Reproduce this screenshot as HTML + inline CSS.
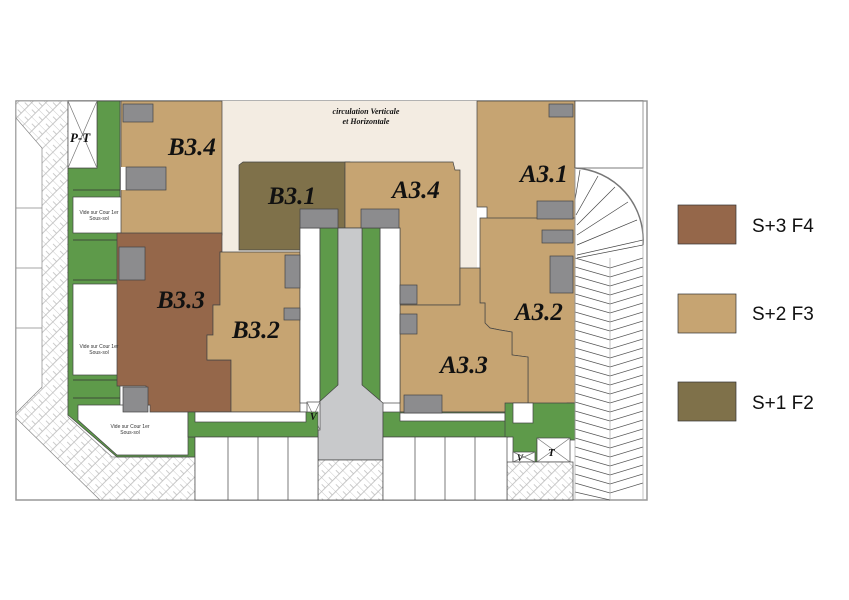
<!DOCTYPE html>
<html><head><meta charset="utf-8"><style>
html,body{margin:0;padding:0;background:#fff}
svg{display:block}
.lbl{font-family:"Liberation Serif",serif;font-weight:bold;font-style:italic;font-size:25px;fill:#111}
.sm{font-family:"Liberation Sans",sans-serif;font-size:5px;fill:#333}
.lg{font-family:"Liberation Sans",sans-serif;font-size:19px;fill:#111}
</style></head><body>
<svg width="849" height="600" viewBox="0 0 849 600" xmlns="http://www.w3.org/2000/svg">
<defs>
<pattern id="h" width="10" height="10" patternUnits="userSpaceOnUse" patternTransform="rotate(45)">
<rect width="10" height="10" fill="#fff"/>
<path d="M0 0H10M0 5H5V10M5 0V5" stroke="#bbb" stroke-width="0.8" fill="none"/>
</pattern>
</defs>
<g stroke="#444" stroke-width="0.7">
<!-- frame -->
<rect x="16" y="101" width="631" height="399" fill="#fff" stroke="#999" stroke-width="1.5"/>
<!-- left hatch -->
<polygon points="16,101 68,101 68,417 112,457 195,457 195,500 100,500 16,418" fill="url(#h)" stroke="#888"/>
<polygon points="16,118 42,148 42,387 16,413" fill="#fff" stroke="#888"/>
<path d="M16 208H42M16 268H42M16 328H42" stroke="#888"/>
<!-- green left -->
<polygon points="68,168 97,168 97,101 120,101 120,437 195,437 195,457 117,457 68,415" fill="#5e9a4a"/>
<rect x="68" y="101" width="29" height="67" fill="#fff"/>
<path d="M68 101L97 168M97 101L68 168" stroke="#777"/>
<path d="M73 190H120M73 240H120M73 280H120M73 380H120M73 398H120" stroke="#333"/>
<rect x="73" y="197" width="52" height="36" fill="#fff"/>
<rect x="73" y="284" width="53" height="91" fill="#fff"/>
<polygon points="78,405 188,405 188,455 117,455 78,420" fill="#fff"/>
<!-- beige circulation -->
<rect x="222" y="101" width="255" height="167" fill="#f3ece2" stroke="none"/>
<!-- B3.4 -->
<polygon points="121,101 222,101 222,235 121,235" fill="#c6a472"/>
<rect x="121" y="167" width="6" height="23" fill="#fff" stroke="none"/>
<!-- B3.3 -->
<polygon points="117,233 222,233 222,252 220,252 220,305 213,305 213,335 207,335 207,360 231,360 231,412 150,412 150,405 146,405 146,386 117,386" fill="#95674a"/>
<!-- B3.2 -->
<polygon points="220,252 300,252 300,412 231,412 231,360 207,360 207,335 213,335 213,305 220,305" fill="#c6a472"/>
<!-- B3.1 -->
<polygon points="239,165 243,162 350,162 350,168 345,168 345,228 300,228 300,250 239,250" fill="#7f714a"/>
<!-- A3.4 -->
<polygon points="345,162 453,162 455,170 460,170 460,305 400,305 400,228 345,228" fill="#c6a472"/>
<!-- A3.1 -->
<polygon points="477,101 575,101 575,220 487,220 487,207 477,207" fill="#c6a472"/>
<!-- A3.2 -->
<polygon points="480,218 575,218 575,403 567,403 567,412 533,412 533,403 528,403 528,357 512,355 512,332 500,330 490,328 485,323 485,303 480,303" fill="#c6a472"/>
<!-- A3.3 -->
<polygon points="400,305 460,305 460,268 480,268 480,303 485,303 485,323 490,328 500,330 512,332 512,355 528,357 528,403 513,403 513,412 400,412" fill="#c6a472"/>
<!-- central column -->
<rect x="300" y="228" width="20" height="175" fill="#fff"/>
<rect x="380" y="228" width="20" height="175" fill="#fff"/>
<polygon points="320,228 338,228 338,385 320,403" fill="#5e9a4a"/>
<polygon points="362,228 380,228 380,403 362,385" fill="#5e9a4a"/>
<polygon points="338,228 362,228 362,385 383,403 383,460 318,460 318,403 338,385" fill="#c8c9cb"/>
<rect x="318" y="460" width="65" height="40" fill="url(#h)"/>
<rect x="307" y="402" width="13" height="28" fill="#fff"/>
<path d="M307 402L320 430M320 402L307 430" stroke="#777"/>
<!-- bottom green strips -->
<rect x="188" y="412" width="130" height="25" fill="#5e9a4a"/>
<rect x="195" y="412" width="111" height="10" fill="#fff"/>
<rect x="383" y="412" width="125" height="25" fill="#5e9a4a"/>
<rect x="400" y="413" width="105" height="8" fill="#fff"/>
<polygon points="505,403 575,403 575,440 537,440 537,462 513,462 513,437 505,437" fill="#5e9a4a"/>
<rect x="513" y="403" width="20" height="20" fill="#fff"/>
<rect x="537" y="438" width="33" height="24" fill="#fff"/>
<path d="M537 438L570 462M570 438L537 462" stroke="#777"/>
<rect x="513" y="452" width="22" height="10" fill="#fff"/>
<path d="M513 452L535 462M535 452L513 462" stroke="#777"/>
<rect x="507" y="462" width="66" height="38" fill="url(#h)"/>
<!-- parking -->
<rect x="195" y="437" width="123" height="63" fill="#fff"/>
<path d="M228 437V500M258 437V500M288 437V500" />
<rect x="383" y="437" width="124" height="63" fill="#fff"/>
<path d="M415 437V500M445 437V500M475 437V500" />
<!-- gray boxes -->
<g fill="#8c8c8e">
<rect x="123" y="104" width="30" height="18"/>
<rect x="126" y="167" width="40" height="23"/>
<rect x="119" y="247" width="26" height="33"/>
<rect x="123" y="387" width="25" height="25"/>
<rect x="285" y="255" width="15" height="33"/>
<rect x="284" y="308" width="16" height="12"/>
<rect x="300" y="209" width="38" height="19"/>
<rect x="361" y="209" width="38" height="19"/>
<rect x="400" y="285" width="17" height="19"/>
<rect x="400" y="314" width="17" height="20"/>
<rect x="404" y="395" width="38" height="18"/>
<rect x="549" y="104" width="24" height="13"/>
<rect x="537" y="201" width="36" height="18"/>
<rect x="542" y="230" width="31" height="13"/>
<rect x="550" y="256" width="23" height="37"/>
</g>
<!-- right area -->
<rect x="575" y="101" width="68" height="67" fill="#fff"/>
<path d="M575 168A72 72 0 0 1 643 245" fill="none" stroke="#777" stroke-width="1.5"/>
<path d="M580 170L575 200M598 176L576 215M615 187L577 225M628 202L577 235M637 220L577 245M643 240L577 255M643 245L577 258" stroke="#444"/>
<path d="M575 258L610 268L643 258M575 267L610 277L643 267M575 276L610 286L643 276M575 285L610 295L643 285M575 294L610 304L643 294M575 303L610 313L643 303M575 312L610 322L643 312M575 321L610 331L643 321M575 330L610 340L643 330M575 339L610 349L643 339M575 348L610 358L643 348M575 357L610 367L643 357M575 366L610 376L643 366M575 375L610 385L643 375M575 384L610 394L643 384M575 393L610 403L643 393M575 402L610 412L643 402M575 411L610 421L643 411M575 420L610 430L643 420M575 429L610 439L643 429M575 438L610 448L643 438M575 447L610 457L643 447M575 456L610 466L643 456M575 465L610 475L643 465M575 474L610 484L643 474M575 483L610 493L643 483M575 492L610 500" fill="none" stroke="#555"/>
<path d="M610 258V500M643 101V500M575 168V500" stroke="#aaa"/>
</g>
<text x="70" y="142" class="lbl" style="font-size:13px">P-T</text>
<text x="168" y="155" class="lbl">B3.4</text>
<text x="268" y="204" class="lbl">B3.1</text>
<text x="392" y="198" class="lbl">A3.4</text>
<text x="520" y="182" class="lbl">A3.1</text>
<text x="157" y="308" class="lbl">B3.3</text>
<text x="232" y="338" class="lbl">B3.2</text>
<text x="515" y="320" class="lbl">A3.2</text>
<text x="440" y="373" class="lbl">A3.3</text>
<text x="366" y="114" text-anchor="middle" class="lbl" style="font-size:8px">circulation Verticale</text>
<text x="366" y="124" text-anchor="middle" class="lbl" style="font-size:8px">et Horizontale</text>
<text x="99" y="214" text-anchor="middle" class="sm">Vide sur Cour 1er</text>
<text x="99" y="220" text-anchor="middle" class="sm">Sous-sol</text>
<text x="99" y="348" text-anchor="middle" class="sm">Vide sur Cour 1er</text>
<text x="99" y="354" text-anchor="middle" class="sm">Sous-sol</text>
<text x="130" y="428" text-anchor="middle" class="sm">Vide sur Cour 1er</text>
<text x="130" y="434" text-anchor="middle" class="sm">Sous-sol</text>
<text x="310" y="420" class="lbl" style="font-size:10px">V</text>
<text x="517" y="461" class="lbl" style="font-size:9px">V</text>
<text x="548" y="456" class="lbl" style="font-size:11px">T</text>
<rect x="678" y="205" width="58" height="39" fill="#95674a" stroke="#333" stroke-width="0.7"/>
<rect x="678" y="294" width="58" height="39" fill="#c6a472" stroke="#333" stroke-width="0.7"/>
<rect x="678" y="382" width="58" height="39" fill="#7f714a" stroke="#333" stroke-width="0.7"/>
<text x="752" y="232" class="lg">S+3 F4</text>
<text x="752" y="320" class="lg">S+2 F3</text>
<text x="752" y="409" class="lg">S+1 F2</text>
</svg>
</body></html>
